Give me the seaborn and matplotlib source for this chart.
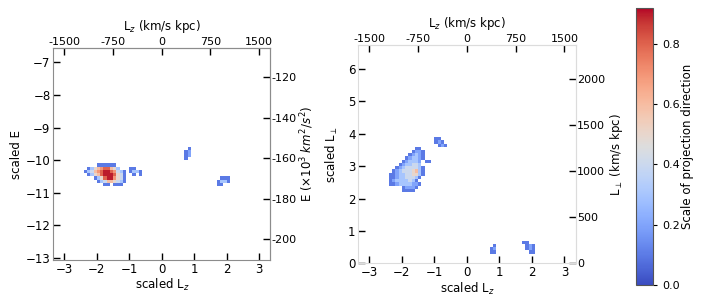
import matplotlib
matplotlib.use("Agg")
import numpy as np
import pandas as pd
import matplotlib.pyplot as plt
import seaborn as sns
from matplotlib.ticker import FuncFormatter

CELL = 0.1          # bin size in scaled units
VMAX = 0.92
LZ_PER_UNIT = 500   # km/s kpc per scaled unit
E_PER_UNIT = 16.1   # 10^3 km^2/s^2 per scaled unit
LPERP_PER_UNIT = 352
FONT = 8.5

# each blob: (left edge x, top edge y, rows) ; a digit d in a row means value d/10
E_BLOBS = [
    (-2.4, -10.1, ["....111111...",
                   ".1356788653..",
                   "1346789987431",
                   ".135689998541",
                   "...1358997541",
                   "....134665431",
                   "......11.111."]),
    (-1.0, -10.2, ["11..",
                   "1331",
                   ".1.1"]),
    (0.7, -9.6, [".1",
                 "12",
                 "12",
                 "1."]),
    (1.7, -10.5, [".111",
                  "1331",
                  "11.."]),
]

LPERP_BLOBS = [
    (-2.4, 3.6, ["........11...",
                 ".......1221..",
                 "......12321..",
                 ".....123321..",
                 "....123332.11",
                 "...1233443...",
                 "..123444431..",
                 ".1234445631..",
                 "11233445531..",
                 "1123344431...",
                 "123333431....",
                 "1123333221...",
                 "....12221....",
                 "....1111....."]),
    (-1.0, 3.9, ["11..",
                 "121.",
                 ".121"]),
    (0.7, 0.6, [".1",
                "12",
                "11"]),
    (1.7, 0.7, ["11..",
                ".121",
                ".121",
                "..11"]),
]


def blob_cells(blobs):
    xs, ys, ws = [], [], []
    for x0, y0, rows in blobs:
        for i, row in enumerate(rows):
            for j, ch in enumerate(row):
                if ch.isdigit():
                    xs.append(x0 + CELL * (j + 0.5))
                    ys.append(y0 - CELL * (i + 0.5))
                    ws.append(int(ch) / 10)
    return pd.DataFrame({"x": xs, "y": ys, "w": ws})


def hyphen_fmt(v, pos):
    return f"{v:.0f}"


TICKS = dict(direction="in", length=5, width=1, color="black")


def draw_panel(ax, df, yrange, spine_color):
    sns.histplot(data=df, x="x", y="y", weights="w", binwidth=CELL,
                 binrange=((-3.3, 3.3), yrange), cmap="coolwarm", ax=ax)
    mesh = ax.collections[-1]
    mesh.set_clim(0, VMAX)
    ax.set_xlim(-3.34, 3.35)
    ax.set_xticks([-3, -2, -1, 0, 1, 2, 3])
    ax.set_xlabel("scaled L$_z$", fontsize=FONT, labelpad=1)
    ax.tick_params(labelsize=FONT, pad=2, **TICKS)
    for s in ax.spines.values():
        s.set_visible(True)
        s.set_color(spine_color)

    top = ax.secondary_xaxis("top", functions=(lambda x: x * LZ_PER_UNIT,
                                               lambda x: x / LZ_PER_UNIT))
    top.set_xticks([-1500, -750, 0, 750, 1500])
    top.xaxis.set_major_formatter(FuncFormatter(hyphen_fmt))
    top.tick_params(labelsize=FONT - 0.5, pad=1, **TICKS)
    top.set_xlabel("L$_z$ (km/s kpc)", fontsize=FONT, labelpad=5)
    top.spines["top"].set_color(spine_color)
    return mesh


sns.set_style("ticks")
plt.rcParams["font.family"] = ["DejaVu Sans"]
plt.rcParams["text.color"] = "black"
plt.rcParams["axes.labelcolor"] = "black"
plt.rcParams["xtick.color"] = "black"
plt.rcParams["ytick.color"] = "black"

fig = plt.figure(figsize=(7.06, 3.06), dpi=100)

# left panel: scaled E vs scaled Lz
ax1 = fig.add_axes([0.0755, 0.150, 0.3075, 0.693])
mesh = draw_panel(ax1, blob_cells(E_BLOBS), (-13.0, -6.6), "#8c8c8c")
ax1.set_ylim(-13.07, -6.56)
ax1.set_yticks([-13, -12, -11, -10, -9, -8, -7])
ax1.set_ylabel("scaled E", fontsize=FONT, labelpad=2)
right1 = ax1.secondary_yaxis("right", functions=(lambda y: y * E_PER_UNIT,
                                                 lambda y: y / E_PER_UNIT))
right1.set_yticks([-200, -180, -160, -140, -120])
right1.yaxis.set_major_formatter(FuncFormatter(hyphen_fmt))
right1.tick_params(labelsize=FONT - 0.5, pad=1, **TICKS)
right1.set_ylabel("E ($\\times 10^3$ $km^2/s^2$)", fontsize=FONT, labelpad=1)
right1.spines["right"].set_color("#8c8c8c")

# right panel: scaled L_perp vs scaled Lz
ax2 = fig.add_axes([0.5075, 0.1395, 0.308, 0.713])
draw_panel(ax2, blob_cells(LPERP_BLOBS), (0.0, 6.7), "#dcdcdc")
ax2.set_ylim(0, 6.74)
ax2.set_yticks([0, 1, 2, 3, 4, 5, 6])
ax2.set_ylabel("scaled L$_\\perp$", fontsize=FONT, labelpad=6)
right2 = ax2.secondary_yaxis("right", functions=(lambda y: y * LPERP_PER_UNIT,
                                                 lambda y: y / LPERP_PER_UNIT))
right2.set_yticks([0, 500, 1000, 1500, 2000])
right2.yaxis.set_major_formatter(FuncFormatter(hyphen_fmt))
right2.tick_params(labelsize=FONT - 0.5, pad=1, **TICKS)
right2.set_ylabel("L$_\\perp$ (km/s kpc)", fontsize=FONT, labelpad=2)
right2.spines["right"].set_color("#dcdcdc")

# colorbar
cax = fig.add_axes([0.901, 0.069, 0.024, 0.905])
cb = fig.colorbar(mesh, cax=cax)
cb.set_ticks([0.0, 0.2, 0.4, 0.6, 0.8])
cb.ax.tick_params(labelsize=FONT - 0.5, length=3, color="black")
cb.set_label("Scale of projection direction", fontsize=FONT, labelpad=1)
cb.outline.set_edgecolor("#555555")

fig.savefig("out.png", dpi=100)
